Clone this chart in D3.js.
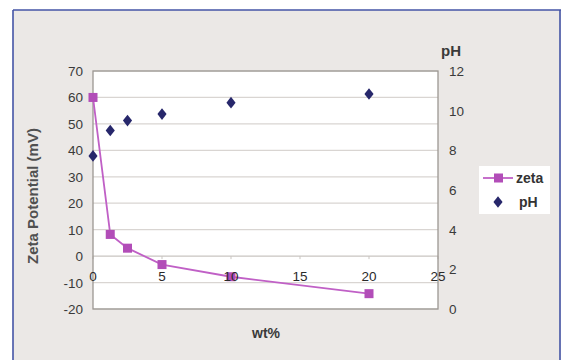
<!DOCTYPE html>
<html><head><meta charset="utf-8">
<script src="https://cdn.jsdelivr.net/npm/d3@7"></script>
<style>html,body{margin:0;padding:0;background:#fff;}svg{display:block;font-family:Arial,"Liberation Sans",sans-serif;}</style>
</head><body>
<svg id="c" width="561" height="360"></svg>
<script>
const wt = [0, 1.25, 2.5, 5, 10, 20];
const zeta = [60, 8.2, 3.0, -3.2, -7.8, -14.2];
const pH = [7.72, 9.0, 9.5, 9.83, 10.4, 10.84];
const xTicks = [0, 5, 10, 15, 20, 25];
const zetaTicks = [-20, -10, 0, 10, 20, 30, 40, 50, 60, 70];
const pHTicks = [0, 2, 4, 6, 8, 10, 12];

const svg = d3.select("#c");
svg.append("rect").attr("x",13).attr("y",10).attr("width",560).attr("height",360).attr("fill","#ebe8e6");
svg.append("line").attr("x1",13).attr("x2",13).attr("y1",10).attr("y2",360).attr("stroke","#4454a6").attr("stroke-width",1.6);
svg.append("line").attr("x1",13).attr("x2",561).attr("y1",10).attr("y2",10).attr("stroke","#4454a6").attr("stroke-width",1.6);
svg.append("line").attr("x1",560).attr("x2",560).attr("y1",10).attr("y2",360).attr("stroke","#4454a6").attr("stroke-width",1.6);

const L=93, R=438, T=71, B=309;
const x = d3.scaleLinear().domain([0,25]).range([L,R]);
const y = d3.scaleLinear().domain([-20,70]).range([B,T]);
const y2 = d3.scaleLinear().domain([0,12]).range([B,T]);

svg.append("rect").attr("x",L).attr("y",T).attr("width",R-L).attr("height",B-T).attr("fill","#fff");
svg.append("g").selectAll("line").data(zetaTicks).join("line")
  .attr("x1",L).attr("x2",R).attr("y1",d=>y(d)).attr("y2",d=>y(d))
  .attr("stroke",d=>d===0?"#c9c5c1":"#d9d5d2").attr("stroke-width",1.2);
svg.append("g").selectAll("line").data(xTicks).join("line")
  .attr("x1",d=>x(d)).attr("x2",d=>x(d)).attr("y1",y(0)).attr("y2",y(0)+3)
  .attr("stroke","#c9c5c1");
svg.append("rect").attr("x",L).attr("y",T).attr("width",R-L).attr("height",B-T)
  .attr("fill","none").attr("stroke","#9c9793").attr("stroke-width",1.3);

svg.append("path").datum(wt.map((d,i)=>[d,zeta[i]]))
  .attr("d",d3.line().x(d=>x(d[0])).y(d=>y(d[1])))
  .attr("fill","none").attr("stroke","#c060c6").attr("stroke-width",1.8);
svg.append("g").selectAll("rect").data(wt.map((d,i)=>[d,zeta[i]])).join("rect")
  .attr("x",d=>x(d[0])-4.5).attr("y",d=>y(d[1])-4.5).attr("width",9).attr("height",9)
  .attr("fill","#b24db8");
const dia = d3.symbol().type(d3.symbolDiamond).size(55);
svg.append("g").selectAll("path").data(wt.map((d,i)=>[d,pH[i]])).join("path")
  .attr("d",dia).attr("transform",d=>`translate(${x(d[0])},${y2(d[1])}) scale(1.15,0.85)`)
  .attr("fill","#27276b");

svg.append("g").selectAll("text").data(zetaTicks).join("text")
  .attr("x",83).attr("y",d=>y(d)+5).attr("text-anchor","end").text(d=>d)
  .attr("fill","#3a3a3a").attr("font-size","13.5px");
svg.append("g").selectAll("text").data(pHTicks).join("text")
  .attr("x",449).attr("y",d=>y2(d)+5).attr("text-anchor","start").text(d=>d)
  .attr("fill","#3a3a3a").attr("font-size","13.5px");
svg.append("g").selectAll("text").data(xTicks).join("text")
  .attr("x",d=>x(d)).attr("y",y(0)+25).attr("text-anchor","middle").text(d=>d)
  .attr("fill","#2a2a2a").attr("font-size","13.5px");

svg.append("text").attr("transform","translate(38,196) rotate(-90)").attr("text-anchor","middle")
  .attr("font-size","15px").attr("font-weight","bold").attr("fill","#505050").text("Zeta Potential (mV)");
svg.append("text").attr("x",266).attr("y",338).attr("text-anchor","middle")
  .attr("font-size","14px").attr("font-weight","bold").attr("fill","#3a3a3a").text("wt%");
svg.append("text").attr("x",451).attr("y",56).attr("text-anchor","middle")
  .attr("font-size","15px").attr("font-weight","bold").attr("fill","#3a3a3a").text("pH");

const lg = svg.append("g");
lg.append("rect").attr("x",479).attr("y",166).attr("width",71).attr("height",48).attr("fill","#fff");
lg.append("line").attr("x1",483).attr("x2",513).attr("y1",178).attr("y2",178).attr("stroke","#c060c6").attr("stroke-width",1.8);
lg.append("rect").attr("x",494).attr("y",173.5).attr("width",9).attr("height",9).attr("fill","#b24db8");
lg.append("text").attr("x",516).attr("y",183).attr("font-size","14px").attr("font-weight","bold").attr("fill","#333").text("zeta");
lg.append("path").attr("d",dia).attr("transform","translate(498,202) scale(1.15,0.85)").attr("fill","#27276b");
lg.append("text").attr("x",519).attr("y",207).attr("font-size","14px").attr("font-weight","bold").attr("fill","#333").text("pH");
</script>
</body></html>
